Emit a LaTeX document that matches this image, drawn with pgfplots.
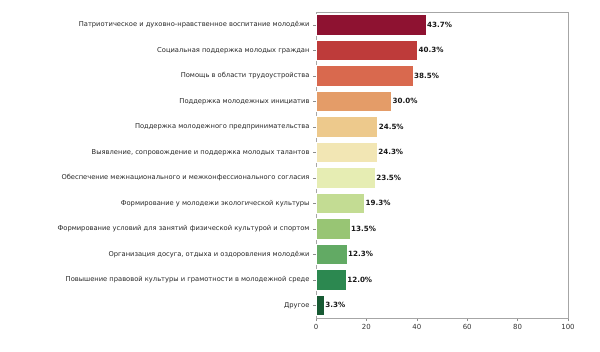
\documentclass[border=0pt]{standalone}
\usepackage{pgfplots}
\pgfplotsset{compat=1.18}
\usepackage{fontspec}
\setmainfont{DejaVu Sans}
\definecolor{c1}{HTML}{8E1231}
\definecolor{c2}{HTML}{BE3B3A}
\definecolor{c3}{HTML}{D9694E}
\definecolor{c4}{HTML}{E49C68}
\definecolor{c5}{HTML}{EDC98C}
\definecolor{c6}{HTML}{F2E6B4}
\definecolor{c7}{HTML}{E6EDB3}
\definecolor{c8}{HTML}{C3DC93}
\definecolor{c9}{HTML}{98C574}
\definecolor{c10}{HTML}{62AA64}
\definecolor{c11}{HTML}{2C8850}
\definecolor{c12}{HTML}{175A33}
\begin{document}
\begin{tikzpicture}[x=1bp,y=1bp]
\path[use as bounding box] (0,0) rectangle (600,351);
\begin{axis}[at={(316bp,33bp)}, anchor=south west, scale only axis,
  width=252bp, height=306bp,
  xmin=0, xmax=100, ymin=-0.5, ymax=11.5, y dir=reverse,
  xbar, bar width=20.4bp, bar shift=0pt,
  ytick={0,...,11},
  yticklabels={Патриотическое и духовно-нравственное воспитание молодёжи,
    Социальная поддержка молодых граждан,
    Помощь в области трудоустройства,
    Поддержка молодежных инициатив,
    Поддержка молодежного предпринимательства,
    {Выявление, сопровождение и поддержка молодых талантов},
    Обеспечение межнационального и межконфессионального согласия,
    Формирование у молодежи экологической культуры,
    Формирование условий для занятий физической культурой и спортом,
    {Организация досуга, отдыха и оздоровления молодёжи},
    Повышение правовой культуры и грамотности в молодежной среде,
    Другое},
  xtick={0,20,...,100},
  tick pos=left,
  axis line style={draw=black!35},
  tick style={draw=black!45, line width=0.5pt}, tick align=outside, major tick length=3bp,
  xticklabel style={font=\fontsize{7}{8}\selectfont, text=black!80},
  yticklabel style={font=\fontsize{6.75}{8}\selectfont, text=black!85},
  /pgf/number format/assume math mode=true,
  point meta=x,
  nodes near coords={\pgfmathprintnumber[fixed,fixed zerofill,precision=1]{\pgfplotspointmeta}\%},
  nodes near coords style={font=\bfseries\fontsize{7.2}{8}\selectfont, anchor=west, inner sep=0.8pt, text=black!90},
  every axis plot/.append style={draw=white, line width=0.5pt},
]
\addplot[fill=c1] coordinates {(43.7,0)};
\addplot[fill=c2] coordinates {(40.3,1)};
\addplot[fill=c3] coordinates {(38.5,2)};
\addplot[fill=c4] coordinates {(30.0,3)};
\addplot[fill=c5] coordinates {(24.5,4)};
\addplot[fill=c6] coordinates {(24.3,5)};
\addplot[fill=c7] coordinates {(23.5,6)};
\addplot[fill=c8] coordinates {(19.3,7)};
\addplot[fill=c9] coordinates {(13.5,8)};
\addplot[fill=c10] coordinates {(12.3,9)};
\addplot[fill=c11] coordinates {(12.0,10)};
\addplot[fill=c12] coordinates {(3.3,11)};
\end{axis}
\end{tikzpicture}
\end{document}
